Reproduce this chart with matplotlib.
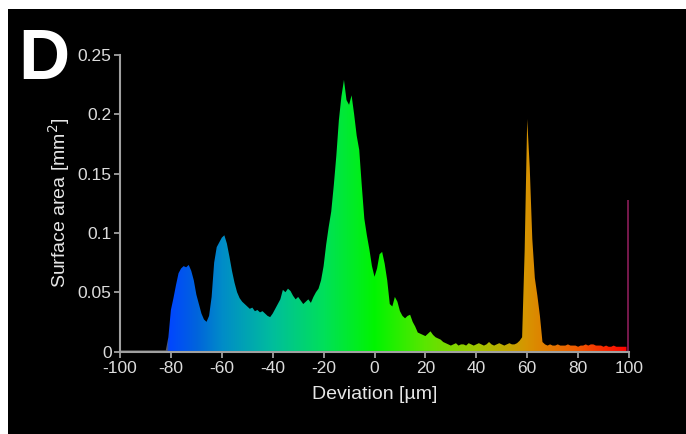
import matplotlib
matplotlib.use('Agg')
import matplotlib.pyplot as plt
import numpy as np
from matplotlib.colors import LinearSegmentedColormap
from matplotlib.patches import PathPatch, Rectangle

plt.rcParams['font.family'] = ['Liberation Sans', 'DejaVu Sans']
plt.rcParams['axes.unicode_minus'] = False

# deviation bins [um], 1 um wide, centred on the integers -100..99
deviation = list(range(-100, 100))

# surface area per bin [mm^2]
area_flat = [0.001] * 19  # -100 .. -82
area_blue = [0.012, 0.035, 0.045, 0.056, 0.066, 0.070, 0.072, 0.071, 0.073, 0.068,   # -81 .. -72
             0.060, 0.048, 0.040, 0.032, 0.027, 0.025, 0.030, 0.046, 0.075, 0.088,   # -71 .. -62
             0.092, 0.096, 0.098, 0.091, 0.080, 0.068, 0.058, 0.050, 0.045, 0.042]   # -61 .. -52
area_mid = [0.040, 0.038, 0.036, 0.037, 0.034, 0.035, 0.033, 0.034, 0.032, 0.030,    # -51 .. -42
            0.029, 0.032, 0.036, 0.040, 0.044, 0.052, 0.050, 0.053, 0.051, 0.047,    # -41 .. -32
            0.044, 0.046, 0.043, 0.040, 0.042, 0.044, 0.041, 0.046, 0.050, 0.053]    # -31 .. -22
area_green = [0.060, 0.072, 0.090, 0.105, 0.118, 0.140, 0.165, 0.195, 0.215, 0.229,  # -21 .. -12
              0.212, 0.208, 0.216, 0.200, 0.182, 0.170, 0.140, 0.112, 0.098, 0.086,  # -11 .. -2
              0.072, 0.063, 0.070, 0.082, 0.084, 0.074, 0.060, 0.040, 0.038, 0.046,  # -1 .. 8
              0.042, 0.034, 0.030, 0.028, 0.030, 0.031, 0.025, 0.021, 0.016, 0.015,  # 9 .. 18
              0.014, 0.013, 0.015, 0.017, 0.014, 0.012, 0.011, 0.010, 0.008, 0.007]  # 19 .. 28
area_tail = [0.006, 0.005, 0.006, 0.007, 0.005, 0.006, 0.006, 0.005, 0.007, 0.006,   # 29 .. 38
             0.005, 0.006, 0.007, 0.006, 0.005, 0.006, 0.008, 0.006, 0.005, 0.006,   # 39 .. 48
             0.007, 0.006, 0.005, 0.006, 0.007, 0.006, 0.006, 0.007, 0.009, 0.012]   # 49 .. 58
area_orange = [0.085, 0.196, 0.155, 0.095, 0.062, 0.047, 0.030, 0.008, 0.006, 0.005,  # 59 .. 68
               0.006, 0.005, 0.005, 0.006, 0.005, 0.005, 0.005, 0.006, 0.005, 0.005,  # 69 .. 78
               0.005, 0.004, 0.005, 0.005, 0.006, 0.005, 0.006, 0.006, 0.005, 0.005,  # 79 .. 88
               0.005, 0.004, 0.005, 0.004, 0.004, 0.005, 0.004, 0.004, 0.004, 0.004,  # 89 .. 98
               0.004]                                                                # 99
surface_area = area_flat + area_blue + area_mid + area_green + area_tail + area_orange

# single thin bar at the upper limit
edge_deviation = 99.7
edge_area = 0.128

xticks = [-100, -80, -60, -40, -20, 0, 20, 40, 60, 80, 100]
yticks = [0, 0.05, 0.1, 0.15, 0.2, 0.25]
ytick_labels = ['0', '0.05', '0.1', '0.15', '0.2', '0.25']

# colour scale along the deviation axis
color_stops = [(-100, '#5a5a5a'), (-82, '#5a5a5a'), (-81, '#0046ff'), (-70, '#0064dc'),
               (-60, '#008cc8'), (-40, '#00be9c'), (-20, '#00e05a'), (0, '#00f500'),
               (20, '#5ae600'), (40, '#a0c800'), (60, '#d79400'), (80, '#f05a00'),
               (100, '#ff0000')]
cmap = LinearSegmentedColormap.from_list(
    'dev', [((v + 100) / 200, c) for v, c in color_stops])

fig = plt.figure(figsize=(6.86, 4.34), dpi=100, facecolor='white')
fig.patches.append(Rectangle((8 / 686, 0), 1, (434 - 9) / 434, transform=fig.transFigure,
                             facecolor='black', edgecolor='none', zorder=-10))
ax = fig.add_axes([120 / 686, 82.5 / 434, 509 / 686, 296.5 / 434])
ax.set_facecolor('black')

x = np.array(deviation, dtype=float)
y = np.array(surface_area)
fill = ax.fill_between(x, y, facecolor='none', edgecolor='none')
clip = PathPatch(fill.get_paths()[0], facecolor='none', edgecolor='none', transform=ax.transData)
ax.add_patch(clip)
gradient = np.linspace(0, 1, 1024).reshape(1, -1)
im = ax.imshow(gradient, extent=[-100, 100, 0, 0.25], aspect='auto', cmap=cmap,
               origin='lower', zorder=2)
im.set_clip_path(clip)

ax.vlines(edge_deviation, 0, edge_area, color='#8c1e5a', lw=1.2, zorder=3)

ax.set_xlim(-100, 100)
ax.set_ylim(0, 0.25)
ax.set_xticks(xticks)
ax.set_yticks(yticks)
ax.set_yticklabels(ytick_labels)

for side in ['top', 'right']:
    ax.spines[side].set_visible(False)
for side in ['left', 'bottom']:
    ax.spines[side].set_color('#a0a0a0')
    ax.spines[side].set_linewidth(1.5)
    ax.spines[side].set_zorder(4)
ax.tick_params(colors='#a0a0a0', labelcolor='#dcdcdc', labelsize=12.5, length=4, width=1.3,
               direction='out')
ax.tick_params(axis='x', pad=3)
ax.tick_params(axis='y', pad=2)

ax.set_xlabel('Deviation [µm]', color='#e6e6e6', fontsize=14, labelpad=7)
ax.set_ylabel('Surface area [mm$^2$]', color='#e6e6e6', fontsize=14, labelpad=4)

fig.text(18 / 686, 1 - 79 / 434, 'D', color='white', fontsize=51, fontweight='bold',
         va='baseline', ha='left')

fig.savefig('out.png', dpi=100, facecolor=fig.get_facecolor())
